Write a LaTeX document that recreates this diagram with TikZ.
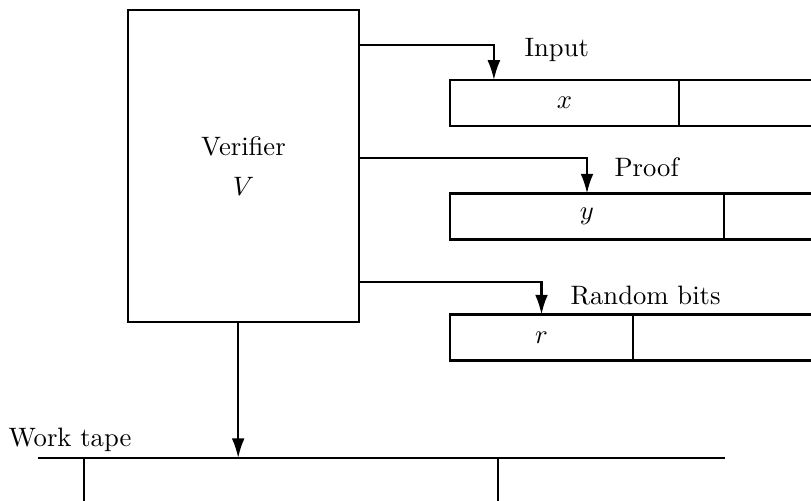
\documentclass[tikz,border=0pt]{standalone}
\usetikzlibrary{positioning,arrows.meta}
\tikzset{
  vbox/.style={rectangle,draw,thick,align=center,outer sep=0pt,
    minimum width=86.7pt,minimum height=117.1pt},
  cell/.style={rectangle,draw,thick,minimum height=17.3pt,inner sep=0pt,
    outer sep=0pt},
  tp/.style={thick},
  ar/.style={-{Latex[length=2.6mm,width=1.7mm]},thick},
  lbl/.style={anchor=base west,inner sep=0pt},
}

\begin{document}
\begin{tikzpicture}[x=0.3754pt,y=-0.3754pt]
  \useasboundingbox (0,0) rectangle (811,501);
  \coordinate (rim) at (811,0);
  % verifier
  \node[vbox] (V) at (243.5,166) {Verifier\\[3pt]$V$};
  % the three read-only tapes
  \node[cell,minimum width=86pt] (inx) at (564.5,103) {$x$};
  \node[cell,minimum width=102.9pt] (prf) at (587,216.5) {$y$};
  \node[cell,minimum width=68.7pt] (rnd) at (541.5,337.5) {$r$};
  \foreach \t in {inx,prf,rnd} {
    \draw[tp] (\t.north east) -- (\t.north east -| rim);
    \draw[tp] (\t.south east) -- (\t.south east -| rim);
  }
  \node[lbl] (inlbl) at (524,57) {Input};
  \node[lbl] (prlbl) at (614,177) {Proof};
  \node[lbl] (rnlbl) at (570,304) {Random bits};
  \draw[ar] ([yshift=-13.1pt]V.north east) -| ([xshift=-26.5pt]inx.north);
  \draw[ar] ([yshift=-55.6pt]V.north east) -| (prf.north);
  \draw[ar] ([yshift=-102.1pt]V.north east) -| (rnd.north);
  % work tape
  \coordinate (wkl) at (38,458);
  \coordinate (wkr) at (725,458);
  \draw[tp] (wkl) -- (wkr);
  \foreach \x in {84,498} \draw[tp] (\x,458) -- (\x,501);
  \node[lbl] (wklbl) at (8,446) {Work tape};
  \draw[ar] ([xshift=-2pt]V.south) -- ([xshift=-2pt]V.south |- wkl);
\end{tikzpicture}
\end{document}
